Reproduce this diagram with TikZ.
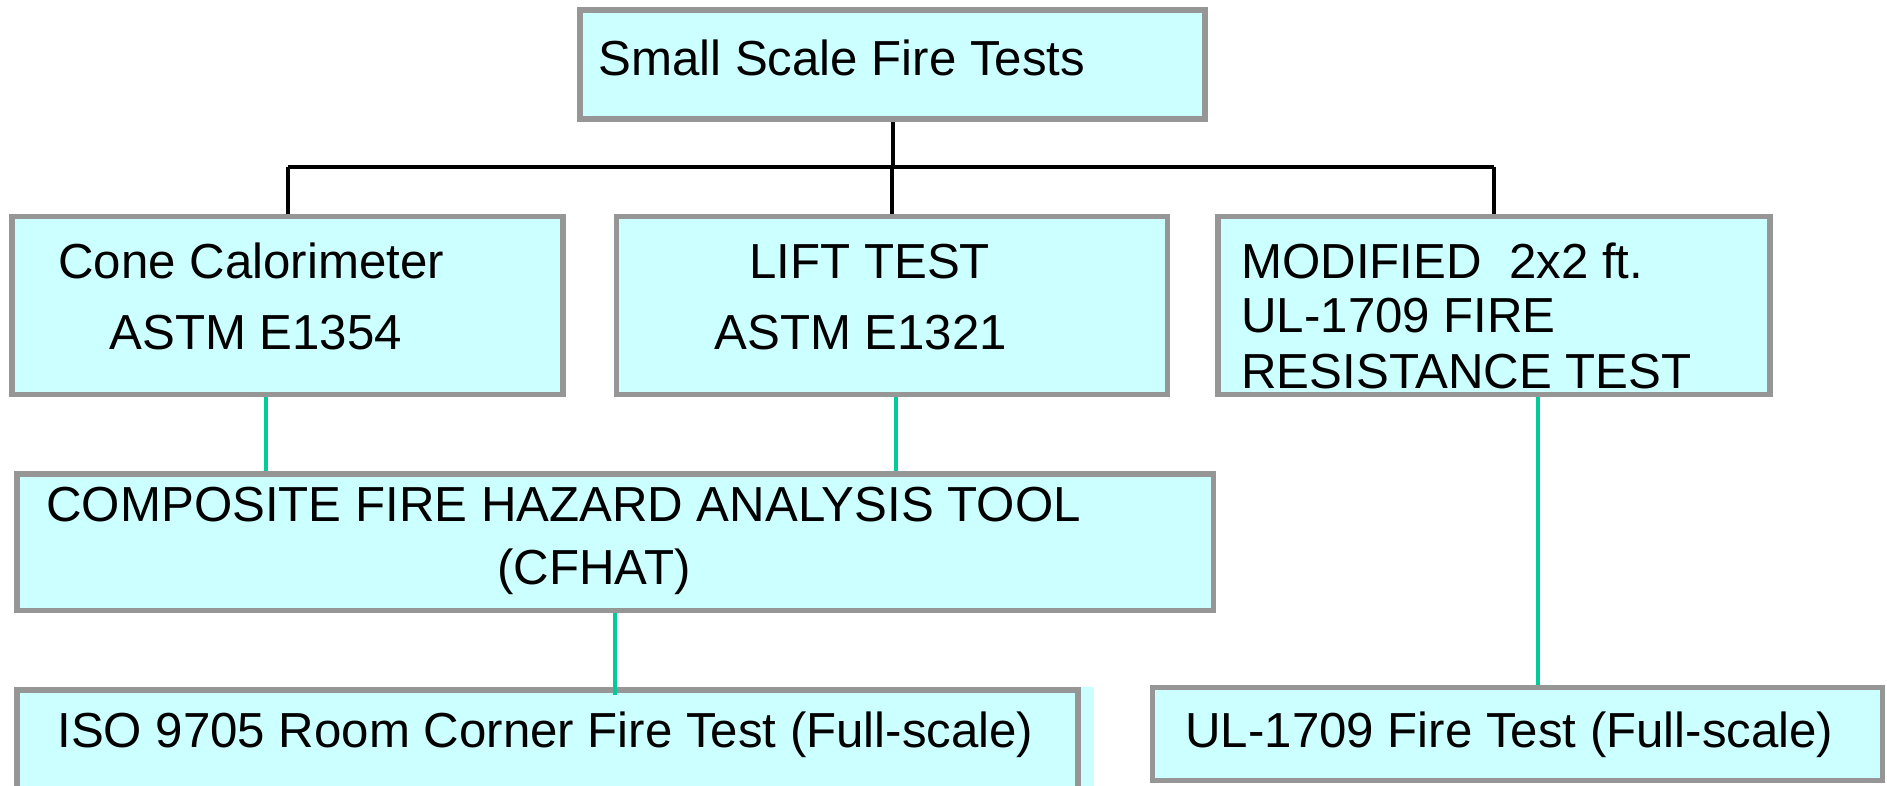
\documentclass[tikz,border=0pt]{standalone}
\usepackage{fontspec}
\setmainfont{Liberation Sans}
\begin{document}
\begin{tikzpicture}[x=0.5pt,y=-0.5pt,
  boxfill/.style={fill={rgb,255:red,204;green,255;blue,255}},
  box/.style={boxfill,draw={rgb,255:red,150;green,150;blue,150},line width=2.7pt,
    rectangle,inner sep=0pt},
  tree/.style={draw=black,line width=2pt},
  link/.style={draw={rgb,255:red,0;green,204;blue,153},line width=1.8pt},
  lbl/.style={anchor=base west,inner sep=0pt,font=\fontsize{24.6}{29}\selectfont}]
\useasboundingbox (0,0) rectangle (1887,786);
\clip (0,0) rectangle (1887,786);
% boxes: corner coordinates in pixels of the 1887 x 786 canvas
\newcommand{\pbox}[5]{\node[box,minimum width={(#4-#2)*0.5pt},minimum height={(#5-#3)*0.5pt}]
  (#1) at ({(#2+#4)/2},{(#3+#5)/2}) {};}
\fill[boxfill] (1081,687) rectangle (1094,786);
\pbox{top}{580}{10}{1205}{119}
\pbox{cone}{12}{216.5}{563}{394.5}
\pbox{lift}{616.5}{216.5}{1167.5}{394.5}
\pbox{mod}{1218}{216.5}{1770}{394.5}
\pbox{cfhat}{17}{474}{1213.5}{610.5}
\pbox{iso}{17}{690}{1078}{820}
\pbox{ul}{1152.5}{687.5}{1882.5}{780.5}

% labels
\node[lbl] (tTop) at (598,76) {Small Scale Fire Tests};
\node[lbl] (tCone1) at (58,279) {Cone Calorimeter};
\node[lbl] (tCone2) at (109,350) {ASTM E1354};
\node[lbl] (tLift1) at (749,279) {LIFT TEST};
\node[lbl] (tLift2) at (714,350) {ASTM E1321};
\node[lbl] (tMod1) at (1241,279) {MODIFIED\ \ 2x2 ft.};
\node[lbl] (tMod2) at (1241,333) {UL-1709 FIRE};
\node[lbl] (tMod3) at (1241,389) {RESISTANCE TEST};
\node[lbl] (tCf1) at (46,522) {COMPOSITE FIRE HAZARD ANALYSIS TOOL};
\node[lbl] (tCf2) at (497,584) {(CFHAT)};
\node[lbl] (tIso) at (57,747) {ISO 9705 Room Corner Fire Test (Full-scale)};
\node[lbl] (tUl) at (1185,747) {UL-1709 Fire Test (Full-scale)};

% black tree from the top box
\coordinate (bus) at (0,167);
\draw[tree] (top.south) -- (top.south |- bus);
\draw[tree] (cone.north |- bus) -- (mod.north |- bus);
\draw[tree] (cone.north |- bus) -- (cone.north);
\draw[tree] (lift.north |- bus) -- (lift.north);
\draw[tree] (mod.north |- bus) -- (mod.north);

% green links
\coordinate (g1) at (266,0);
\coordinate (g2) at (896,0);
\coordinate (g3) at (615,0);
\coordinate (g4) at (1538,0);
\draw[link] (cone.south -| g1) -- (cfhat.north -| g1);
\draw[link] (lift.south -| g2) -- (cfhat.north -| g2);
\draw[link] (cfhat.south -| g3) -- ([yshift=-4pt]iso.north -| g3);
\draw[link] (mod.south -| g4) -- (ul.north -| g4);
\end{tikzpicture}
\end{document}
